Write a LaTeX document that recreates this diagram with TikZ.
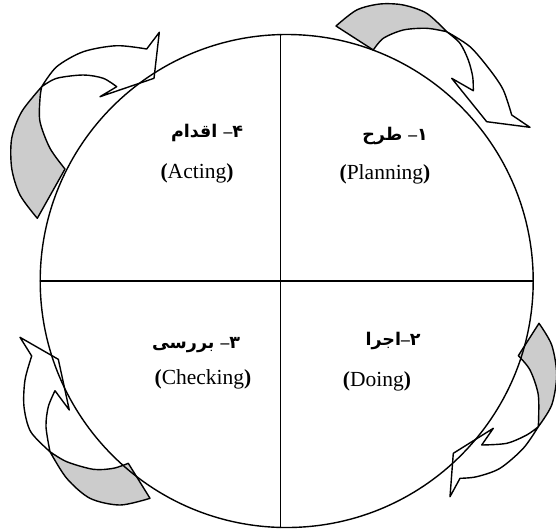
\documentclass[tikz,border=0pt]{standalone}
\usepackage{fontspec}
\setmainfont{Liberation Serif}
\newfontfamily\farsifont[Script=Arabic]{DejaVu Sans}
\TeXXeTstate=1
\definecolor{backgray}{RGB}{204,204,204}
\newcommand\fadash{\hbox{\normalfont\bfseries –}}

\begin{document}
\begin{tikzpicture}[x=1pt,y=-1pt,line cap=round,line join=round,
  back/.style={draw=black,fill=backgray,line width=1.4pt},
  front/.style={draw=black,fill=white,line width=1.4pt},
  fa/.style={font=\farsifont\bfseries\fontsize{17.5}{20}\selectfont},
  en/.style={font=\fontsize{21.5}{24}\selectfont}]
  \useasboundingbox (0,0) rectangle (556,531);

  \draw[back] plot[smooth] coordinates {(336,26) (356.7,10) (380,4) (403.3,5) (426.7,13.3) (446.7,31.7)}
    -- plot[smooth] coordinates {(446.7,31.7) (426.7,28.3) (403.3,30) (383.3,38.3) (373.3,50)} -- cycle;
  \draw[front] plot[smooth] coordinates {(446.7,31.7) (470,46.7) (490,70) (503.3,90) (511.7,115)}
    -- (530,127.3) -- (486.7,121.7) -- (451.7,78.3) -- (473.3,90.7)
    -- plot[smooth] coordinates {(473.3,90.7) (472.7,76.7) (468.3,60) (460,43.3) (446.7,31.7)} -- cycle;

  \draw[back] plot[smooth] coordinates {(37.3,218.3) (20,195) (11.7,168.3) (11.7,138.3) (21.7,111.7) (41.7,86.7)}
    -- plot[smooth] coordinates {(41.7,86.7) (40,98.3) (40,121.7) (50,148.3) (65,169)} -- cycle;
  \draw[front] plot[smooth] coordinates {(41.7,86.7) (56.7,66.7) (83.3,51.7) (116.7,45.7) (146.7,49)}
    -- (159.3,32.3) -- (154,78.3) -- (100,96.7) -- (116.7,86.7)
    -- plot[smooth] coordinates {(116.7,86.7) (103.3,78.3) (83.3,75) (56.7,78.3) (41.7,86.7)} -- cycle;

  \draw[back] plot[smooth] coordinates {(150,498.3) (120,505) (90,498.3) (66.7,478.3) (50,451.7)}
    -- plot[smooth] coordinates {(50,451.7) (66.7,461.7) (93.3,469.3) (113.3,468.3) (128.3,463.3)} -- cycle;
  \draw[front] plot[smooth] coordinates {(50,451.7) (30.7,431.7) (24,406.7) (25,380) (31.7,356)}
    -- (20,337.3) -- (58.3,359.3) -- (69.3,410) -- (55,390.7)
    -- plot[smooth] coordinates {(55,390.7) (48.3,406.7) (46,426.7) (50,451.7)} -- cycle;

  \draw[back] plot[smooth] coordinates {(539,323.3) (551.7,345) (556.7,375) (551.7,405) (538.3,426.7)}
    -- plot[smooth] coordinates {(538.3,426.7) (538.3,395) (530,370) (518.3,355.7)} -- cycle;
  \draw[front] plot[smooth] coordinates {(538.3,426.7) (523.3,448.3) (500,468.3) (476.7,476.7) (460,478.3)}
    -- (450,496.7) -- (453.3,453.3) -- (493.3,428.3) -- (481.7,445)
    -- plot[smooth] coordinates {(481.7,445) (506.7,443.3) (526.7,435) (538.3,426.7)} -- cycle;

  \coordinate (centre) at (286.7,281);
  \coordinate (top) at (280.3,34.6);
  \coordinate (bottom) at (280.3,527.4);
  \coordinate (west) at (40.2,281);
  \coordinate (east) at (533.2,281);
  \draw[line width=1.4pt] (centre) circle[radius=246.5pt];
  \draw[line width=1.4pt] (top) -- (bottom);
  \draw[line width=1.4pt] (west) -- (east);

  \node[fa] (plan) at (395,136) {\beginR ۱\fadash\ طرح\endR};
  \node[en] (planen) at (385,174) {\textbf{(}Planning\textbf{)}};
  \node[fa] (act) at (207,133) {\beginR ۴\fadash\ اقدام\endR};
  \node[en] (acten) at (197,173) {\textbf{(}Acting\textbf{)}};
  \node[fa] (check) at (196,345) {\beginR ۳\fadash\ بررسی\endR};
  \node[en] (checken) at (203,379) {\textbf{(}Checking\textbf{)}};
  \node[fa] (do) at (393,341) {\beginR ۲\fadash اجرا\endR};
  \node[en] (doen) at (377,381) {\textbf{(}Doing\textbf{)}};
\end{tikzpicture}
\end{document}
